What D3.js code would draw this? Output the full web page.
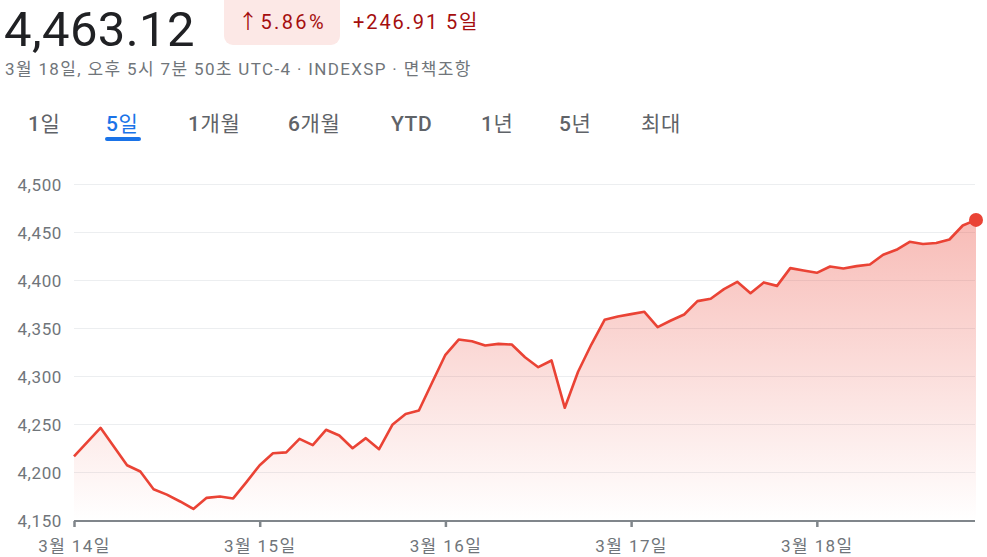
<!DOCTYPE html>
<html>
<head>
<meta charset="utf-8">
<script src="https://cdn.jsdelivr.net/npm/d3@7"></script>
<style>
  body { margin: 0; background: #fff; font-family: Roboto, "Noto Sans CJK KR", sans-serif; }
  svg text { font-family: Roboto, "Noto Sans CJK KR", sans-serif; }
</style>
</head>
<body>
<svg id="chart" width="987" height="557"></svg>
<script>
// values, 14 samples per day from 3/14 to 3/18
var prices = [4216.7, 4231.6, 4246.5, 4227, 4207.6, 4201, 4182.6, 4177, 4169.8, 4162,
  4173.6, 4175, 4173, 4190, 4207.6, 4220, 4221, 4235, 4228.5, 4244.5,
  4238.5, 4225.3, 4235.8, 4224.3, 4249.7, 4261, 4264.6, 4293.8, 4322.6, 4338.5,
  4336.8, 4332.3, 4334, 4333.3, 4320, 4309.7, 4316.7, 4267.4, 4305, 4333.3,
  4359, 4362.5, 4365, 4367.4, 4351.4, 4358.3, 4364.6, 4378.5, 4381, 4391,
  4398.6, 4386.8, 4398, 4394.4, 4412.9, 4410.4, 4408, 4414.6, 4412.5, 4415,
  4416.7, 4426.8, 4432, 4440.3, 4438, 4439, 4442.7, 4457.3, 4463.12];
var dayTicks = [0, 14, 28, 42, 56];
var dayLabels = ["3월 14일", "3월 15일", "3월 16일", "3월 17일", "3월 18일"];
var yTicks = [4150, 4200, 4250, 4300, 4350, 4400, 4450, 4500];
var tabs = ["1일", "5일", "1개월", "6개월", "YTD", "1년", "5년", "최대"];
var tabX = [28, 106, 188, 288, 391, 481, 559, 641];
var activeTab = "5일";

var svg = d3.select("#chart"),
    width = +svg.attr("width"),
    height = +svg.attr("height");

var red = "#ea4335";

// header
svg.append("text").attr("x", 4).attr("y", 46)
  .attr("font-size", 49).attr("letter-spacing", 0.4)
  .attr("fill", "#202124").text("4,463.12");

svg.append("rect").attr("x", 224).attr("y", -8).attr("width", 116).attr("height", 53)
  .attr("rx", 9).attr("fill", "#fce8e6");
svg.append("text").attr("x", 238).attr("y", 29)
  .attr("font-size", 20).attr("letter-spacing", 2.4).attr("fill", "#a50e0e")
  .text("↑5.86%");
svg.append("text").attr("x", 353).attr("y", 29)
  .attr("font-size", 20).attr("letter-spacing", 1.9).attr("fill", "#a50e0e")
  .text("+246.91 5일");

svg.append("text").attr("x", 5).attr("y", 75)
  .attr("font-size", 17).attr("letter-spacing", 1.35).attr("fill", "#70757a")
  .text("3월 18일, 오후 5시 7분 50초 UTC-4 · INDEXSP · 면책조항");

// tabs: latin part medium, hangul regular
var tab = svg.append("g").selectAll("text")
  .data(tabs)
  .enter().append("text")
  .attr("x", function(d, i) { return tabX[i]; })
  .attr("y", 131)
  .attr("font-size", 21)
  .attr("letter-spacing", 0.6)
  .attr("fill", function(d) { return d == activeTab ? "#1a73e8" : "#5f6368"; });
tab.selectAll("tspan")
  .data(function(d) { return d.match(/[A-Za-z0-9]+|[^A-Za-z0-9]+/g); })
  .enter().append("tspan")
  .attr("font-weight", function(s) { return /[A-Za-z0-9]/.test(s) ? 500 : 400; })
  .text(function(s) { return s; });
svg.append("rect").attr("x", 105).attr("y", 137).attr("width", 36).attr("height", 4)
  .attr("rx", 2).attr("fill", "#1a73e8");

// scales
var x = d3.scaleLinear().domain([0, prices.length - 1]).range([74, 976]);
var y = d3.scaleLinear().domain([4150, 4500]).range([520.5, 184.5]);
var right = 975;

// gridlines
svg.append("g").selectAll("line")
  .data(yTicks.slice(1))
  .enter().append("line")
  .attr("x1", 74).attr("x2", right)
  .attr("y1", function(d) { return y(d); }).attr("y2", function(d) { return y(d); })
  .attr("stroke", "#eceef0").attr("stroke-width", 1);

// y labels
svg.append("g").selectAll("text")
  .data(yTicks)
  .enter().append("text")
  .attr("x", 62)
  .attr("y", function(d) { return y(d) + 6; })
  .attr("text-anchor", "end")
  .attr("font-size", 17)
  .attr("letter-spacing", 0.6)
  .attr("fill", "#70757a")
  .text(function(d) { return d3.format(",")(d); });

// gradient area
var defs = svg.append("defs");
var grad = defs.append("linearGradient").attr("id", "fillGrad")
  .attr("gradientUnits", "userSpaceOnUse")
  .attr("x1", 0).attr("y1", y(4500)).attr("x2", 0).attr("y2", y(4150));
grad.append("stop").attr("offset", "0%").attr("stop-color", red).attr("stop-opacity", 0.4);
grad.append("stop").attr("offset", "100%").attr("stop-color", red).attr("stop-opacity", 0);

var area = d3.area()
  .x(function(d, i) { return x(i); })
  .y0(y(4150))
  .y1(function(d) { return y(d); });
svg.append("path").datum(prices).attr("d", area).attr("fill", "url(#fillGrad)");

// x axis
var xAxis = d3.axisBottom(x)
  .tickValues(dayTicks)
  .tickSize(6)
  .tickFormat(function(d, i) { return dayLabels[i]; });
var gx = svg.append("g").attr("transform", "translate(0," + 521 + ")").call(xAxis);
gx.select(".domain").attr("d", "M74,0H" + right).attr("stroke", "#80868b").attr("stroke-width", 2);
gx.selectAll(".tick line").attr("stroke", "#80868b").attr("stroke-width", 2.5);
gx.selectAll(".tick text")
  .attr("y", 19)
  .attr("font-size", 17)
  .attr("letter-spacing", 1.4)
  .attr("fill", "#70757a")
  .attr("font-family", "Roboto, 'Noto Sans CJK KR', sans-serif");

// line
var line = d3.line()
  .x(function(d, i) { return x(i); })
  .y(function(d) { return y(d); });
svg.append("path").datum(prices).attr("d", line)
  .attr("fill", "none").attr("stroke", red).attr("stroke-width", 2.6)
  .attr("stroke-linejoin", "round");

// end point
svg.append("circle")
  .attr("cx", x(prices.length - 1)).attr("cy", y(prices[prices.length - 1]))
  .attr("r", 7).attr("fill", red);
</script>
</body>
</html>
